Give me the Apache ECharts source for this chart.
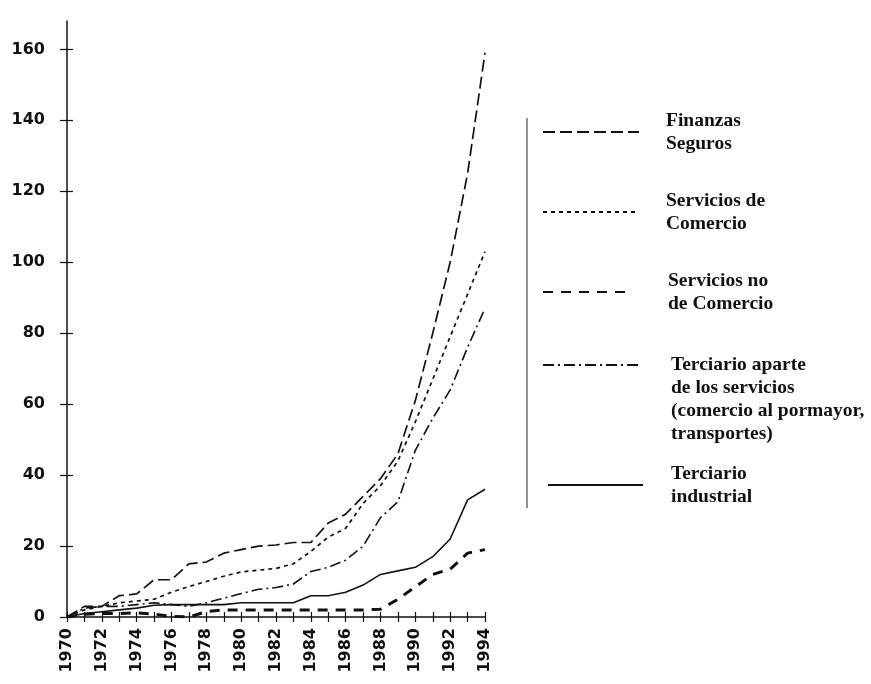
<!DOCTYPE html>
<html>
<head>
<meta charset="utf-8">
<script src="https://cdn.jsdelivr.net/npm/echarts@6/dist/echarts.min.js"></script>
<style>
html,body{margin:0;padding:0;background:#fff;}
#chart{width:871px;height:684px;}
</style>
</head>
<body>
<div id="chart"></div>
<script>
const years = [1970,1971,1972,1973,1974,1975,1976,1977,1978,1979,1980,1981,1982,1983,1984,1985,1986,1987,1988,1989,1990,1991,1992,1993,1994];
const yTickValues = [0,20,40,60,80,100,120,140,160];

const finanzasSeguros    = [0,3,3,6,6.5,10.5,10.5,15,15.5,18,19,20,20.3,21,21,26.5,29,34,39,46,61,80,100,125,159];
const serviciosComercio  = [0,2,3,4,4.5,5,7,8.6,10,11.5,12.7,13.2,13.7,15,18.5,22.5,25,32,37,44,55,67,79,91,103];
const serviciosNoComercio= [0,0.8,1,1,1.2,0.8,0.2,0,1.5,2,2,2,2,2,2,2,2,2,2.2,5,8.5,12,13.5,18,19];
const terciarioAparte    = [0,2.5,3,3,3.5,4,3.5,3,4,5.3,6.6,7.8,8.3,9.3,12.8,14,16,20,28,32.5,47,56,64,76,87];
const terciarioIndustrial= [0,1,1.5,2,2.5,3.3,3.5,3.5,3.5,3.5,4,4,4,4,6,6,7,9,12,13,14,17,22,33,36];

const names = [
  'Finanzas\nSeguros',
  'Servicios de\nComercio',
  'Servicios no\nde Comercio',
  'Terciario aparte\nde los servicios\n(comercio al pormayor,\ntransportes)',
  'Terciario\nindustrial'
];

const ink = '#111';
const pairs = arr => years.map((y, i) => [y, arr[i]]);

function mkSeries(name, arr, width, type) {
  return {
    name: name, type: 'line', data: pairs(arr), symbol: 'none',
    xAxisIndex: 0, yAxisIndex: 0,
    lineStyle: { color: ink, width: width, type: type },
    itemStyle: { color: ink },
    emphasis: { disabled: true }, silent: true, animation: false
  };
}

const legendText = {
  fontFamily: '"Liberation Serif", "Times New Roman", serif',
  fontWeight: 'bold', fontSize: 19.5, lineHeight: 23, color: ink
};
function mkLegend(name, left, top, w, padLeft, leadBlank) {
  return {
    data: [name], left: left, top: top, orient: 'vertical', padding: 0,
    itemWidth: w, itemHeight: 14, selectedMode: false,
    itemStyle: { color: 'rgba(0,0,0,0)', borderColor: 'rgba(0,0,0,0)', borderWidth: 0, opacity: 0 },
    formatter: n => (leadBlank ? '\n\n\n' : '') + n,
    textStyle: Object.assign({}, legendText, { padding: [0, 0, 0, padLeft] })
  };
}

const axisFont = { fontFamily: '"DejaVu Sans", sans-serif', fontSize: 16, fontWeight: 'bold', color: ink };

const chart = echarts.init(document.getElementById('chart'), null, { renderer: 'canvas' });
chart.setOption({
  animation: false,
  backgroundColor: '#fff',
  grid: { left: 67, right: 386, top: 21, bottom: 67, containLabel: false },
  xAxis: [
    {
      type: 'value', min: 1970, max: 1994, interval: 1,
      axisLine: { show: true, lineStyle: { color: ink, width: 1.5 } },
      axisTick: { show: true, length: 5, lineStyle: { color: ink, width: 1.2 } },
      axisLabel: Object.assign({ rotate: 90, margin: 11,
        formatter: v => (v % 2 === 0 ? String(v) : '') }, axisFont),
      splitLine: { show: false }
    },
    {
      type: 'value', min: 1970, max: 1994, interval: 1, position: 'bottom',
      axisLine: { show: false },
      axisTick: { show: true, inside: true, length: 5, lineStyle: { color: ink, width: 1.2 } },
      axisLabel: { show: false }, splitLine: { show: false }
    }
  ],
  yAxis: [
    {
      type: 'value', min: 0, max: 168, interval: 20,
      axisLine: { show: true, lineStyle: { color: ink, width: 1.5 } },
      axisTick: { show: true, length: 7, customValues: yTickValues, lineStyle: { color: ink, width: 1.2 } },
      axisLabel: Object.assign({ margin: 22, customValues: yTickValues }, axisFont),
      splitLine: { show: false }
    },
    {
      type: 'value', min: 0, max: 168, interval: 20, position: 'left',
      axisLine: { show: false },
      axisTick: { show: true, inside: true, length: 6, customValues: yTickValues, lineStyle: { color: ink, width: 1.2 } },
      axisLabel: { show: false }, splitLine: { show: false }
    }
  ],
  legend: [
    mkLegend(names[0], 542, 109, 96, 22, false),
    mkLegend(names[1], 542, 189, 94, 24, false),
    mkLegend(names[2], 542, 269, 90, 30, false),
    mkLegend(names[3], 542, 284.5, 96, 27, true),
    mkLegend(names[4], 547, 462, 95, 23, false)
  ],
  graphic: [
    { type: 'line', shape: { x1: 527, y1: 118, x2: 527, y2: 508 }, style: { stroke: '#222', lineWidth: 1 }, silent: true }
  ],
  series: [
    mkSeries(names[0], finanzasSeguros, 1.7, [12, 5]),
    mkSeries(names[1], serviciosComercio, 1.7, [4, 4]),
    mkSeries(names[2], serviciosNoComercio, 3, [10, 8]),
    mkSeries(names[3], terciarioAparte, 1.6, [11, 4, 2, 4]),
    mkSeries(names[4], terciarioIndustrial, 1.6, 'solid')
  ]
});
</script>
</body>
</html>
